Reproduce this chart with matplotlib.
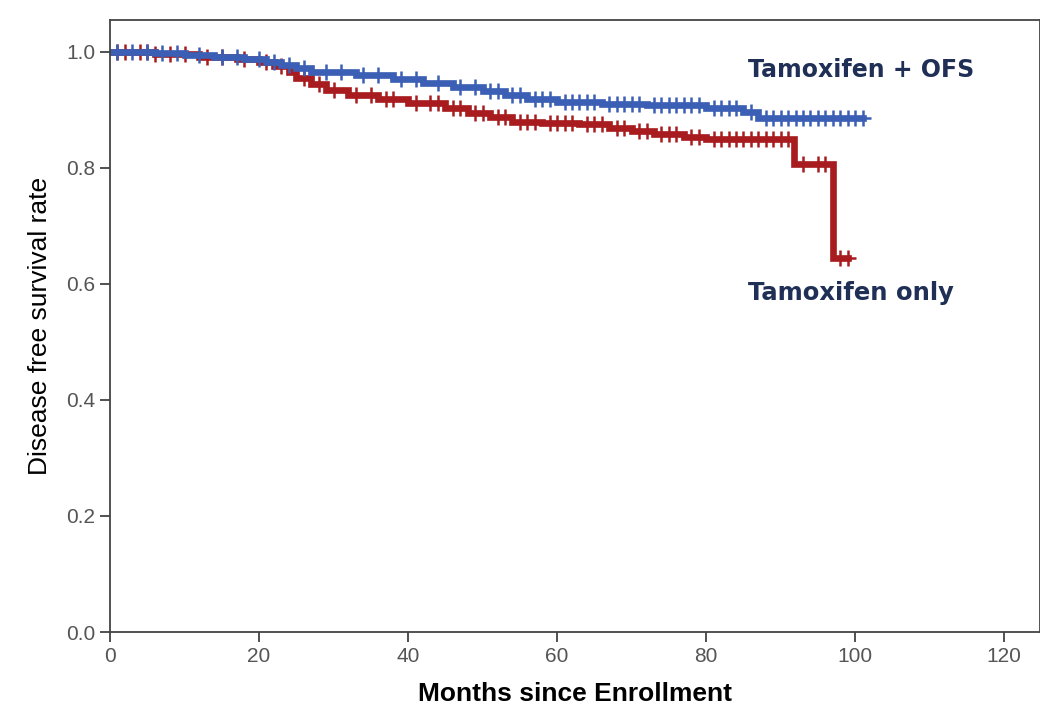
import numpy as np
import matplotlib.pyplot as plt

plt.rcParams['font.family'] = ['Liberation Sans', 'DejaVu Sans']

# Tamoxifen + OFS: step times (months) and survival from that time on
ofs_t = [0, 6, 10, 14, 18, 21, 23, 25, 27, 33, 38, 42, 46, 50, 53, 56, 60, 66, 72, 80, 85, 87, 101]
ofs_s = [1.0, 0.998, 0.995, 0.992, 0.988, 0.983, 0.978, 0.972, 0.965, 0.96, 0.953, 0.947, 0.94,
         0.932, 0.925, 0.918, 0.914, 0.911, 0.908, 0.904, 0.896, 0.886, 0.886]
ofs_cens = [1, 3, 5, 7, 9, 12, 15, 17, 20, 22, 24, 26, 29, 31, 34, 36, 39, 41, 44, 47, 49, 51, 52,
            54, 55, 57, 58, 59, 61, 62, 63, 64, 65, 67, 68, 69, 70, 71, 73, 74, 75, 76, 77, 78,
            79, 81, 82, 83, 84, 86, 88, 89, 90, 91, 92, 93, 94, 95, 96, 97, 98, 99, 100, 101]

# Tamoxifen only
tam_t = [0, 6, 12, 17, 20, 22, 24, 25, 27, 29, 32, 36, 40, 45, 48, 51, 54, 58, 63, 67, 70, 73, 77,
         80, 91.8, 97, 99]
tam_s = [1.0, 0.997, 0.992, 0.987, 0.982, 0.975, 0.965, 0.955, 0.945, 0.935, 0.925, 0.918, 0.912,
         0.903, 0.895, 0.887, 0.88, 0.877, 0.875, 0.868, 0.863, 0.858, 0.853, 0.85, 0.806, 0.644, 0.644]
tam_cens = [1, 2, 4, 5, 6, 8, 10, 13, 15, 18, 21, 23, 26, 28, 30, 33, 35, 37, 38, 41, 43, 44, 46,
            47, 49, 50, 52, 53, 55, 56, 57, 59, 60, 61, 62, 64, 65, 66, 68, 69, 71, 72, 74, 75, 76,
            78, 79, 81, 82, 83, 84, 85, 86, 87, 88, 89, 90, 91, 93, 95, 96, 98, 99]

blue = '#3b5fb5'
red = '#a81c1f'

fig = plt.figure(figsize=(10.4, 7.07), dpi=100)
ax = fig.add_axes([110 / 1040, 75 / 707, 930 / 1040, 612 / 707])


def surv_at(times, surv, x):
    i = np.searchsorted(times, x, side='right') - 1
    return np.array(surv)[i]


for t, s, c, col in [(tam_t, tam_s, tam_cens, red), (ofs_t, ofs_s, ofs_cens, blue)]:
    ax.step(t, s, where='post', color=col, lw=4.8, solid_joinstyle='miter')
    ax.plot(c, surv_at(t, s, c), ls='none', marker='+', ms=11, mew=1.8, color=col)

ax.text(85.6, 0.969, 'Tamoxifen + OFS', color='#1f2f55', fontsize=17, fontweight='bold',
        family='DejaVu Sans', va='center', ha='left')
ax.text(85.6, 0.584, 'Tamoxifen only', color='#1f2f55', fontsize=17.5, fontweight='bold',
        family='DejaVu Sans', va='center', ha='left')

ax.set_xlim(0, 124.8)
ax.set_ylim(0, 1.055)
ax.set_xticks([0, 20, 40, 60, 80, 100, 120])
ax.set_yticks([0.0, 0.2, 0.4, 0.6, 0.8, 1.0])
ax.set_yticklabels(['0.0', '0.2', '0.4', '0.6', '0.8', '1.0'])
ax.tick_params(direction='out', length=7, width=1.2, color='#333333', labelcolor='#555555',
               labelsize=15)
for sp in ax.spines.values():
    sp.set_linewidth(1.3)
    sp.set_color('#444444')

ax.set_xlabel('Months since Enrollment', fontsize=19, fontweight='bold', labelpad=12)
ax.set_ylabel('Disease free survival rate', fontsize=19, labelpad=10)

fig.savefig('out.png', dpi=100)
